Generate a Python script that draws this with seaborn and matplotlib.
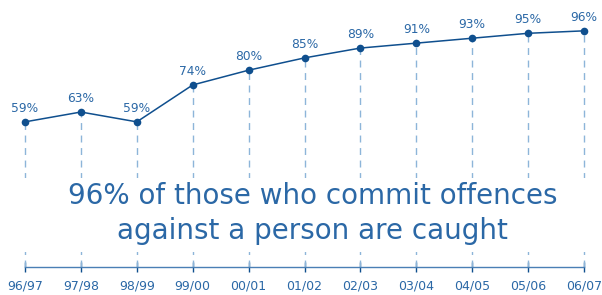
import numpy as np
import pandas as pd
import seaborn as sns
import matplotlib.pyplot as plt

# datos
years = ["96/97", "97/98", "98/99", "99/00", "00/01", "01/02",
         "02/03", "03/04", "04/05", "05/06", "06/07"]
caught_pct = [59, 63, 59, 74, 80, 85, 89, 91, 93, 95, 96]
headline = "96% of those who commit offences\nagainst a person are caught"

df = pd.DataFrame({"year": years, "pct": caught_pct})
df["x"] = np.arange(len(df))

sns.set_style("white")
plt.rcParams["font.family"] = ["DejaVu Sans"]

dark = "#0f4f8e"
txt = "#2b68a6"
light = "#8db5d9"

fig = plt.figure(figsize=(6.02, 2.95), dpi=100)
ax = fig.add_axes([25 / 602, 28 / 295, 559 / 602, 246 / 295])

# lineas verticales punteadas
ax.vlines(df["x"], 0, df["pct"], colors=light, linestyles=(0, (5, 4)),
          linewidth=1, zorder=1, clip_on=False)
# banda blanca para el texto
ax.axhspan(6.2, 36, xmin=-0.05, xmax=1.05, color="white", zorder=2, lw=0,
           clip_on=False)

sns.lineplot(data=df, x="x", y="pct", ax=ax, color=dark, linewidth=1.1,
             marker="o", markersize=5.5, markeredgewidth=0, zorder=3,
             clip_on=False)

for xi, p in zip(df["x"], df["pct"]):
    ax.text(xi, p + 5.5, f"{p}%", ha="center", va="center", fontsize=8.8,
            color=txt, zorder=4)

ax.text(5.15, 21.6, headline, ha="center", va="center", fontsize=20,
        color=txt, linespacing=1.32, zorder=4)

ax.set_xlim(0, 10)
ax.set_ylim(0, 100)
ax.set_xticks(df["x"])
ax.set_xticklabels(df["year"])
ax.set_yticks([])
ax.set_xlabel("")
ax.set_ylabel("")
for s in ["top", "left", "right"]:
    ax.spines[s].set_visible(False)
ax.spines["bottom"].set_color("#4a7fb5")
ax.spines["bottom"].set_linewidth(1)
ax.tick_params(axis="x", direction="inout", length=7, width=1, color=dark,
               labelsize=9, labelcolor=txt, pad=5.5, bottom=True)

fig.savefig("out.png", dpi=100)
